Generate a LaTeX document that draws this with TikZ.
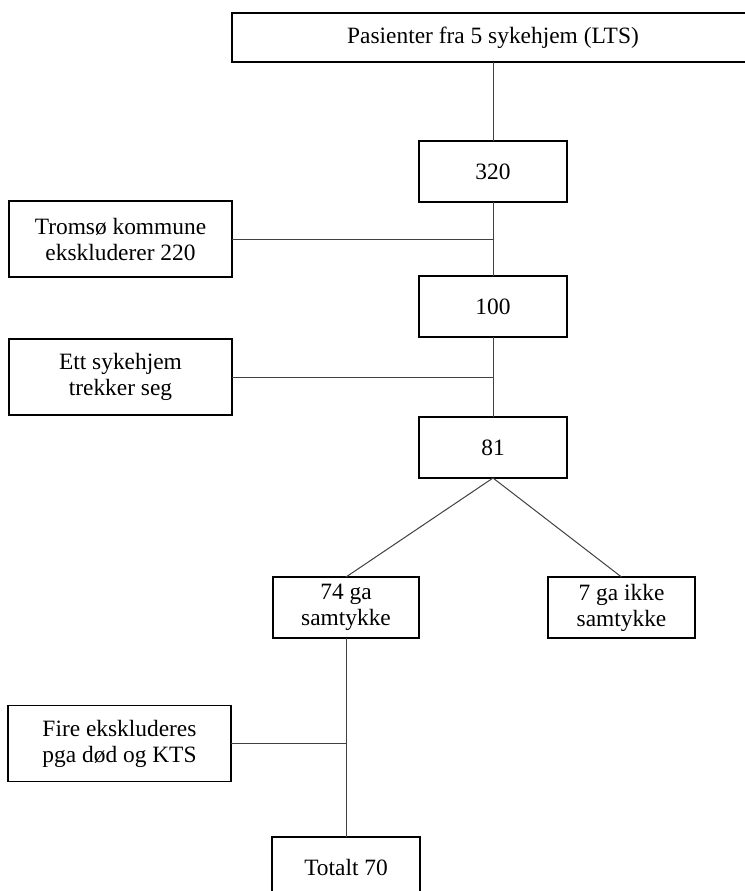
\documentclass[tikz,border=0pt]{standalone}
\usepackage{fontspec}
\setmainfont{Liberation Serif}
\usetikzlibrary{positioning, calc}

\begin{document}
\begin{tikzpicture}[
    x=0.5pt, y=-0.5pt,
    font=\fontsize{11.7}{13}\selectfont,
    node distance=37pt,
    box/.style={
        draw=black,
        fill=white,
        rectangle,
        line width=0.9pt,
        minimum width=74pt,
        minimum height=30.5pt,
        inner sep=2pt,
        outer sep=0pt,
        align=center
    },
    sidebox/.style={
        box,
        minimum width=111.5pt,
        minimum height=38pt
    },
    link/.style={
        draw=black!75,
        line width=0.5pt
    }
]
\clip (0,0) rectangle (745,891);

% ================= MAIN CHAIN =================
\node[box, minimum width=261pt, minimum height=24.5pt] (top) at (493,37.5) {Pasienter fra 5 sykehjem (LTS)};
\node[box, below=39.5pt of top] (n320) {320};
\node[box, below=37pt of n320] (n100) {100};
\node[box, below=40pt of n100] (n81) {81};

\node[box, minimum width=73pt, below=49.5pt of n81, xshift=-73.5pt] (ja) {74 ga\\samtykke};
\node[box, minimum width=73.5pt, below=49.5pt of n81, xshift=64.25pt] (nei) {7 ga ikke\\samtykke};
\node[box, below=99.5pt of ja] (total) {Totalt 70};

% ================= EXCLUSIONS =================
\node[sidebox, anchor=east] (tromso) at ($(n320.south)!0.5!(n100.north) + (-261,0)$) {Troms\o{} kommune\\ekskluderer 220};
\node[sidebox, anchor=east] (ett) at ($(n100.south)!0.5!(n81.north) + (-261,0)$) {Ett sykehjem\\trekker seg};
\node[sidebox, anchor=east] (fire) at ($(ja.south)!0.53!(total.north) + (-115,0)$) {Fire ekskluderes\\pga d\o d og KTS};

\draw[link] (top) -- (n320);
\draw[link] (n320) -- (n100);
\draw[link] (n100) -- (n81);
\draw[link] (n81.south) -- (ja.north);
\draw[link] (n81.south) -- (nei.north);
\draw[link] (ja) -- (total);

\draw[link] (tromso.east) -- (tromso.east -| n320.south);
\draw[link] (ett.east) -- (ett.east -| n100.south);
\draw[link] (fire.east) -- (fire.east -| ja.south);

\end{tikzpicture}
\end{document}
